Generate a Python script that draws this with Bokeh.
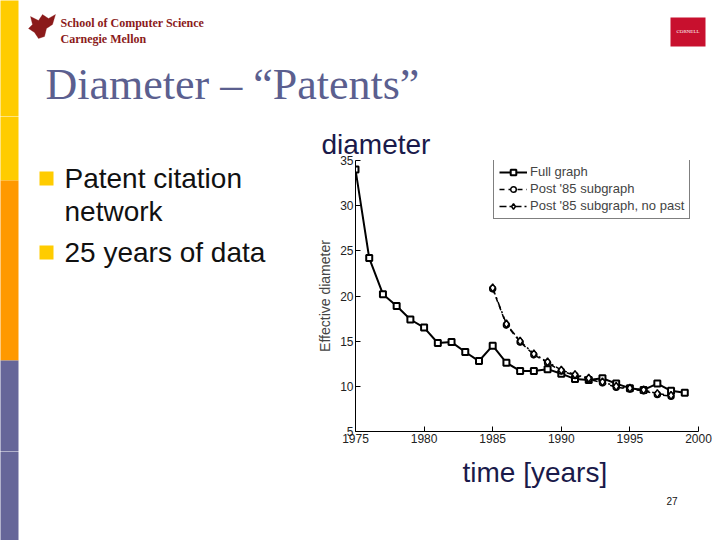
from bokeh.plotting import figure
from bokeh.layouts import column, row
from bokeh.models import (Label, BoxAnnotation, PolyAnnotation, Legend, LegendItem,
                          Range1d, FixedTicker)
from bokeh.embed import file_html
from bokeh.resources import INLINE

# ---- data ----
years_full = list(range(1975, 2000))
diam_full = [34.0, 24.2, 20.2, 18.9, 17.4, 16.5, 14.8, 14.9, 13.8, 12.8,
             14.5, 12.6, 11.7, 11.7, 11.9, 11.4, 10.8, 10.7, 10.9, 10.3,
             9.8, 9.6, 10.3, 9.5, 9.3]
years_post = list(range(1985, 1999))
diam_post85 = [20.8, 16.8, 14.9, 13.5, 12.6, 11.7, 11.2, 10.8, 10.4, 9.9,
               9.7, 9.5, 9.1, 8.9]
diam_nopast = [20.9, 16.9, 15.0, 13.6, 12.7, 11.8, 11.3, 10.9, 10.5, 10.0,
               9.8, 9.6, 9.2, 9.0]
x_ticks = [1975, 1980, 1985, 1990, 1995, 2000]
y_ticks = [5, 10, 15, 20, 25, 30, 35]
series_names = ["Full graph", "Post '85 subgraph", "Post '85 subgraph, no past"]

W, H = 720, 540
FRAME_L, FRAME_R, FRAME_T, FRAME_B = 355, 698, 160, 431
TOP_H = 116
MID_H = FRAME_B + 20 - TOP_H
BOT_H = H - TOP_H - MID_H
LEFT_W = 298


def deco(x0, y0, w, h):
    f = figure(width=w, height=h, output_backend="svg", toolbar_location=None,
               x_range=Range1d(x0, x0 + w), y_range=Range1d(y0 + h, y0),
               min_border=0, min_border_left=0, min_border_right=0,
               min_border_top=0, min_border_bottom=0,
               background_fill_color="white", border_fill_color="white")
    f.axis.visible = False
    f.grid.visible = False
    f.outline_line_color = None
    f.frame_align = False
    return f


def box(f, l, r, t, b, color):
    f.add_layout(BoxAnnotation(left=l, right=r, top=t, bottom=b,
                               fill_color=color, fill_alpha=1, line_color=None,
                               level="underlay"))


def label(f, x, y, text, size, color="black", font="Liberation Sans", style="normal",
          align="left", baseline="middle"):
    f.add_layout(Label(x=x, y=y, text=text, text_font=font, text_font_size=size,
                       text_color=color, text_font_style=style, text_align=align,
                       text_baseline=baseline))


def stripes(f):
    box(f, -5, 18, -10, 180, "#FFCC00")
    box(f, -5, 18, 180, 360, "#FF9900")
    box(f, -5, 18, 360, 560, "#666699")


# ---- top band ----
top = deco(0, 0, W, TOP_H)
stripes(top)
box(top, 670, 705, 17, 46, "#C8102E")
label(top, 60, 22, "School of Computer Science", "12px", "#8B1A1A", "Liberation Serif", "bold")
label(top, 60, 38, "Carnegie Mellon", "12px", "#8B1A1A", "Liberation Serif", "bold")
label(top, 687.5, 31, "CORNELL", "5px", "white", "Liberation Serif", align="center")
label(top, 45, 84, "Diameter \u2013 \u201cPatents\u201d", "44px", "#5B5F8F", "Liberation Serif")
top.add_layout(PolyAnnotation(xs=[30, 38, 42, 48, 55, 52, 46, 44, 38, 34, 28, 32],
                              ys=[16, 20, 14, 18, 14, 24, 28, 36, 38, 32, 28, 24],
                              fill_color="#8B1A1A", fill_alpha=1, line_color="#8B1A1A"))

# ---- left middle: bullets ----
left = deco(0, TOP_H, LEFT_W, MID_H)
stripes(left)
box(left, 39, 53, 171, 185, "#FFCC00")
box(left, 39, 53, 245, 259, "#FFCC00")
label(left, 64, 178, "Patent citation", "28px", "#111111")
label(left, 64, 211, "network", "28px", "#111111")
label(left, 64, 252, "25 years of data", "28px", "#111111")

# ---- chart ----
p = figure(width=W - LEFT_W, height=MID_H, output_backend="svg", toolbar_location=None,
           title="diameter",
           x_range=Range1d(1975, 2000), y_range=Range1d(5, 35),
           min_border_left=FRAME_L - LEFT_W, min_border_right=W - FRAME_R,
           min_border_top=FRAME_T - TOP_H, min_border_bottom=TOP_H + MID_H - FRAME_B,
           background_fill_color="white", border_fill_color="white")
p.outline_line_color = None
p.grid.visible = False
p.frame_align = False
p.title.text_font = "Liberation Sans"
p.title.text_font_size = "28px"
p.title.text_font_style = "normal"
p.title.text_color = "#1A1A4A"
p.title.align = "left"
p.title.offset = 321 - FRAME_L
p.title.standoff = 2

for ax in (p.xaxis[0], p.yaxis[0]):
    ax.major_tick_in = 5
    ax.major_tick_out = 0
    ax.minor_tick_line_color = None
    ax.axis_line_color = "black"
    ax.major_tick_line_color = "black"
    ax.major_label_text_font = "Liberation Sans"
    ax.major_label_text_font_size = "12px"
    ax.major_label_text_color = "#222222"
    ax.major_label_standoff = 2
    ax.axis_label_text_font = "Liberation Sans"
    ax.axis_label_text_font_style = "normal"
p.xaxis[0].ticker = FixedTicker(ticks=x_ticks)
p.yaxis[0].ticker = FixedTicker(ticks=y_ticks)
p.yaxis[0].axis_label = "Effective diameter"
p.yaxis[0].axis_label_text_font_size = "14px"
p.yaxis[0].axis_label_standoff = 4

l1 = p.line(years_full, diam_full, line_color="black", line_width=2)
s1 = p.scatter(years_full, diam_full, marker="square", size=6, fill_color="white",
               line_color="black", line_width=2)
l2 = p.line(years_post, diam_post85, line_color="black", line_width=1.5, line_dash="5 4")
s2 = p.scatter(years_post, diam_post85, marker="circle", size=6, fill_color="white",
               line_color="black", line_width=1.5)
l3 = p.line(years_post, diam_nopast, line_color="black", line_width=1.5, line_dash="7 3 2 3")
s3 = p.scatter(years_post, diam_nopast, marker="diamond", size=8, fill_color="white",
               line_color="black", line_width=1.5)

legend = Legend(items=[LegendItem(label=series_names[0], renderers=[l1, s1]),
                       LegendItem(label=series_names[1], renderers=[l2, s2]),
                       LegendItem(label=series_names[2], renderers=[l3, s3])],
                location=(138, 212))
legend.label_text_font = "Liberation Sans"
legend.label_text_font_size = "13px"
legend.label_height = 14
legend.glyph_height = 14
legend.glyph_width = 28
legend.spacing = 2
legend.padding = 5
legend.label_standoff = 3
legend.border_line_color = "black"
legend.border_line_width = 1
legend.background_fill_alpha = 1
p.add_layout(legend)

# ---- bottom band ----
bot = deco(0, TOP_H + MID_H, W, BOT_H)
stripes(bot)
label(bot, 462, 472, "time [years]", "28px", "#1A1A4A")
label(bot, 666, 500, "27", "10px", "#111111")

layout = column(top, row(left, p, spacing=0), bot, spacing=0)
open("out.html", "w").write(file_html(layout, INLINE))
